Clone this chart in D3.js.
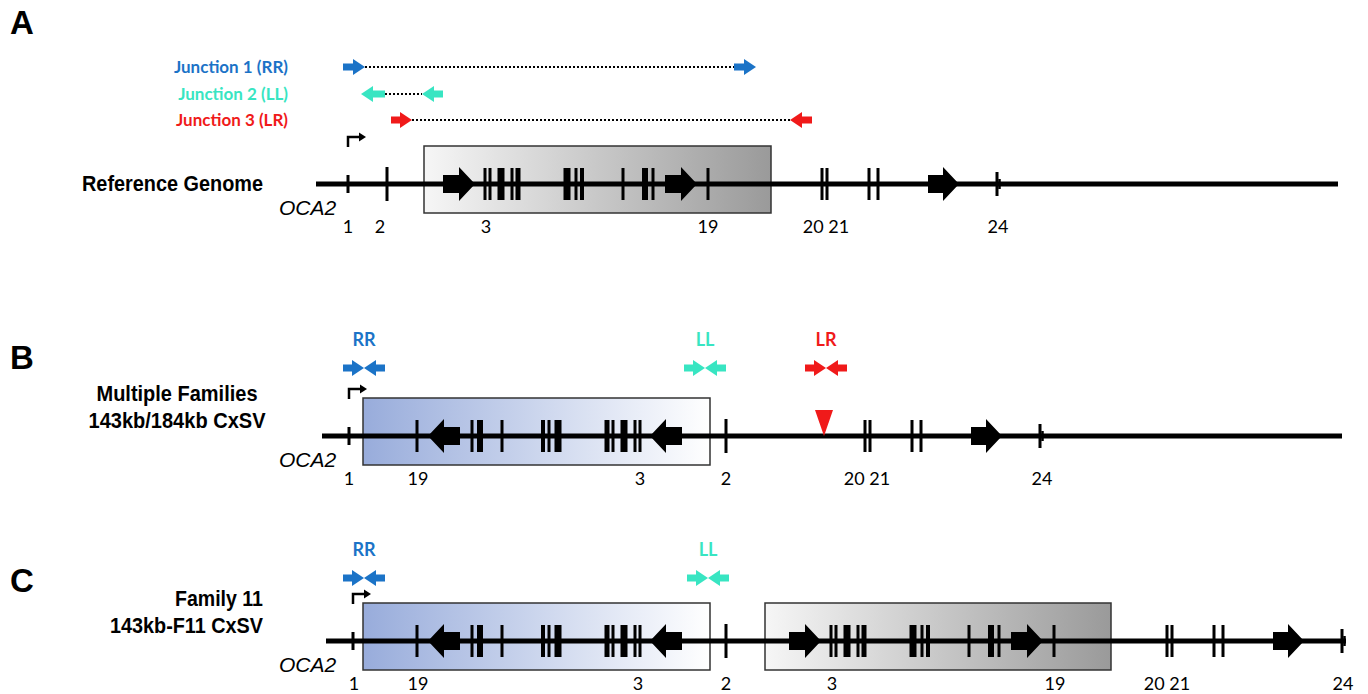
<!DOCTYPE html>
<html>
<head>
<meta charset="utf-8">
<script src="https://cdnjs.cloudflare.com/ajax/libs/d3/7.8.5/d3.min.js"></script>
<style>
	body { margin: 0; background: #fff; }
	svg { display: block; }
</style>
</head>
<body>
<svg id="figure" width="1368" height="694"></svg>
<script>
// positions are in genomic units (0 = left end of the plotting area)

// inverted / duplicated part of OCA2: offsets from the start of the exon 3 arrow
const segExons = [[42, 3], [47, 3], [58, 7], [69, 3], [75, 5], [124, 7], [133, 3], [139, 4], [180, 3], [202, 6], [210, 3], [265, 3]];
const segArrows = [[0, 32], [222, 254]];
// exons 20-24 and the downstream gene: offsets from exon 20
const downExons = [[0, 3], [5, 3], [47, 3], [56, 3]];
const downArrows = [[106, 137]];
const exon24Offset = 175;

const panelNames = ['A', 'B', 'C'];
const panelTitles = [['Reference Genome'], ['Multiple Families', '143kb/184kb CxSV'], ['Family 11', '143kb-F11 CxSV']];
const lineExtents = [[16, 1038], [22, 1042], [26, 1046]];
const exon1Pos = [48, 49, 53];
const exon2Pos = [87, 426, 426];
const downAnchor = [522, 565, 867];

// placed copies of the segment
const segCopies = [
	{ panel: 0, fill: 'gray', box: [124, 471], anchor: 143, strand: 1 },
	{ panel: 1, fill: 'blue', box: [63, 410], anchor: 382, strand: -1 },
	{ panel: 2, fill: 'blue', box: [63, 410], anchor: 382, strand: -1 },
	{ panel: 2, fill: 'gray', box: [465, 811], anchor: 489, strand: 1 }
];

const exonLabels = [
	[['1', 48], ['2', 80], ['3', 186], ['19', 408], ['20 21', 526], ['24', 698]],
	[['1', 49], ['19', 118], ['3', 340], ['2', 426], ['20 21', 567], ['24', 742]],
	[['1', 54], ['19', 118], ['3', 338], ['2', 426], ['3', 532], ['19', 755], ['20 21', 867], ['24', 1043]]
];

const junctions = [
	{ name: 'Junction 1 (RR)', short: 'RR', color: '#1b73c7', left: [43, 65], right: [434, 456] },
	{ name: 'Junction 2 (LL)', short: 'LL', color: '#38e5c2', left: [85, 61], right: [143, 122] },
	{ name: 'Junction 3 (LR)', short: 'LR', color: '#f01a1a', left: [91, 112], right: [512, 490] }
];
// converging primer pairs on the rearranged alleles: [junction, centre]
const primerPairs = [
	[],
	[[0, 64], [1, 405], [2, 526]],
	[[0, 64], [1, 408]]
];
const lrBreakpoint = 524;

const Figure = {
	lineY: [184, 436, 641],
	primerY: [null, 368, 578],
	junctionY: [67, 94, 120],
	letterY: [34, 369, 592],
	titleWidths: [[181], [161, 177], [88, 153]],
	x: d3.scaleLinear().domain([0, 1068]).range([300, 1368]),
	svg: null,

	init: function() {
		const self = this;
		self.svg = d3.select('#figure');
		self.svg.append('rect').attr('width', 1368).attr('height', 694).attr('fill', '#fff');

		var defs = self.svg.append('defs');
		var grad = defs.append('linearGradient').attr('id', 'grad-gray');
		grad.append('stop').attr('offset', 0).attr('stop-color', '#f6f6f6');
		grad.append('stop').attr('offset', 1).attr('stop-color', '#9a9a9a');
		grad = defs.append('linearGradient').attr('id', 'grad-blue');
		grad.append('stop').attr('offset', 0).attr('stop-color', '#98acdb');
		grad.append('stop').attr('offset', 1).attr('stop-color', '#ffffff');
	},
	update: function() {
		const self = this;
		for (var p = 0; p < 3; p++) {
			self.drawPanelText(p);
			self.drawBoxes(p);
			self.drawLine(p);
			self.drawSegments(p);
			self.drawFixedExons(p);
			self.drawLabels(p);
		}
		self.drawJunctions();
		self.drawPrimers();
		self.drawBreakpoint();
	},

	// shapes

	arrowPath: function(start, tip, y, bodyH, headH, headLen) {
		var dir = tip > start ? 1 : -1;
		var base = tip - dir * headLen;
		return 'M' + [start, y - bodyH] + 'L' + [base, y - bodyH] + 'L' + [base, y - headH] +
			'L' + [tip, y] + 'L' + [base, y + headH] + 'L' + [base, y + bodyH] + 'L' + [start, y + bodyH] + 'Z';
	},
	exon: function(g, pos, width, y, half) {
		const self = this;
		var cx = self.x(pos);
		g.append('rect')
			.attr('x', cx - width / 2).attr('y', y - half)
			.attr('width', width).attr('height', half * 2)
			.attr('fill', '#000');
	},

	// panel pieces

	drawPanelText: function(p) {
		const self = this;
		var y = self.lineY[p];
		self.svg.append('text')
			.attr('x', 10).attr('y', self.letterY[p])
			.style('font', 'bold 33px "Liberation Sans", Arial, sans-serif')
			.text(panelNames[p]);

		var titles = panelTitles[p];
		var anchor = p == 1 ? 'middle' : 'end';
		var tx = p == 1 ? 177 : 263;
		var ty0 = titles.length == 1 ? y + 7 : y - 35;
		titles.forEach(function(t, i) {
			self.svg.append('text')
				.attr('x', tx).attr('y', ty0 + i * 27)
				.attr('text-anchor', anchor)
				.attr('textLength', self.titleWidths[p][i])
				.attr('lengthAdjust', 'spacingAndGlyphs')
				.style('font', 'bold 22px "Liberation Sans", Arial, sans-serif')
				.text(t);
		});

		self.svg.append('text')
			.attr('x', 279).attr('y', y + 31)
			.style('font', 'italic 21px "Liberation Sans", Arial, sans-serif')
			.text('OCA2');
	},
	drawBoxes: function(p) {
		const self = this;
		segCopies.filter(function(d) { return d.panel == p }).forEach(function(d) {
			var y = self.lineY[p];
			self.svg.append('rect')
				.attr('x', self.x(d.box[0])).attr('y', y - 38)
				.attr('width', self.x(d.box[1]) - self.x(d.box[0])).attr('height', 67)
				.attr('fill', 'url(#grad-' + d.fill + ')')
				.attr('stroke', '#333').attr('stroke-width', 1.5);
		});
	},
	drawLine: function(p) {
		const self = this;
		var y = self.lineY[p];
		self.svg.append('line')
			.attr('x1', self.x(lineExtents[p][0])).attr('x2', self.x(lineExtents[p][1]))
			.attr('y1', y).attr('y2', y)
			.attr('stroke', '#000').attr('stroke-width', 5);
	},
	drawSegments: function(p) {
		const self = this;
		var y = self.lineY[p];
		var g = self.svg.append('g');
		segCopies.filter(function(d) { return d.panel == p }).forEach(function(d) {
			segExons.forEach(function(e) {
				self.exon(g, d.anchor + d.strand * e[0], e[1], y, 16);
			});
			segArrows.forEach(function(a) {
				g.append('path')
					.attr('d', self.arrowPath(self.x(d.anchor + d.strand * a[0]), self.x(d.anchor + d.strand * a[1]), y, 9, 17, 16))
					.attr('fill', '#000');
			});
		});
	},
	drawFixedExons: function(p) {
		const self = this;
		var y = self.lineY[p];
		var g = self.svg.append('g');
		var x1 = self.x(exon1Pos[p]);

		self.exon(g, exon1Pos[p], 3, y, 9);
		self.exon(g, exon2Pos[p], 3, y, 17);

		// transcription start
		g.append('path')
			.attr('d', 'M' + [x1, y - 37] + 'L' + [x1, y - 47] + 'L' + [x1 + 12, y - 47])
			.attr('fill', 'none').attr('stroke', '#000').attr('stroke-width', 2.5);
		g.append('path')
			.attr('d', 'M' + [x1 + 11, y - 51.5] + 'L' + [x1 + 18, y - 47] + 'L' + [x1 + 11, y - 42.5] + 'Z')
			.attr('fill', '#000');

		var d0 = downAnchor[p];
		downExons.forEach(function(e) { self.exon(g, d0 + e[0], e[1], y, 16); });
		downArrows.forEach(function(a) {
			g.append('path')
				.attr('d', self.arrowPath(self.x(d0 + a[0]), self.x(d0 + a[1]), y, 9, 17, 16))
				.attr('fill', '#000');
		});
		self.exon(g, d0 + exon24Offset, 3, y, 12);
		self.exon(g, d0 + exon24Offset + 2.5, 2.5, y, 5);
	},
	drawLabels: function(p) {
		const self = this;
		var y = self.lineY[p];
		self.svg.append('g').selectAll('text')
			.data(exonLabels[p])
			.join('text')
			.attr('x', function(d) { return self.x(d[1]) })
			.attr('y', y + 49)
			.attr('text-anchor', 'middle')
			.style('font', '18px Lato, "Open Sans", sans-serif')
			.text(function(d) { return d[0] });
	},

	// primers

	drawJunctions: function() {
		const self = this;
		var g = self.svg.append('g');
		junctions.forEach(function(j, i) {
			var y = self.junctionY[i];
			g.append('text')
				.attr('x', 288).attr('y', y + 6)
				.attr('text-anchor', 'end')
				.style('font', 'bold 17px Lato, "Open Sans", sans-serif')
				.attr('fill', j.color)
				.text(j.name);

			var innerL = j.left[0] < j.left[1] ? j.left[1] : j.left[0];
			var innerR = j.right[0] < j.right[1] ? j.right[0] : j.right[1];
			g.append('line')
				.attr('x1', self.x(innerL)).attr('x2', self.x(innerR))
				.attr('y1', y).attr('y2', y)
				.attr('stroke', '#000').attr('stroke-width', 2.2)
				.attr('stroke-dasharray', '2,2');

			[j.left, j.right].forEach(function(a) {
				g.append('path')
					.attr('d', self.arrowPath(self.x(a[0]), self.x(a[1]), y, 3.5, 8, 12))
					.attr('fill', j.color);
			});
		});
	},
	drawPrimers: function() {
		const self = this;
		var g = self.svg.append('g');
		primerPairs.forEach(function(pairs, p) {
			var y = self.primerY[p];
			pairs.forEach(function(pp) {
				var j = junctions[pp[0]];
				var c = pp[1];
				g.append('path')
					.attr('d', self.arrowPath(self.x(c - 21), self.x(c), y, 3.5, 8, 12))
					.attr('fill', j.color);
				g.append('path')
					.attr('d', self.arrowPath(self.x(c + 21), self.x(c), y, 3.5, 8, 12))
					.attr('fill', j.color);
				g.append('text')
					.attr('x', self.x(c)).attr('y', y - 22)
					.attr('text-anchor', 'middle')
					.style('font', 'bold 18px Lato, "Open Sans", sans-serif')
					.attr('fill', j.color)
					.text(j.short);
			});
		});
	},
	drawBreakpoint: function() {
		const self = this;
		var y = self.lineY[1];
		var cx = self.x(lrBreakpoint);
		self.svg.append('path')
			.attr('d', 'M' + [cx - 9, y - 26] + 'L' + [cx + 9, y - 26] + 'L' + [cx, y] + 'Z')
			.attr('fill', '#f01a1a');
	}
};

Figure.init();
Figure.update();
</script>
</body>
</html>
